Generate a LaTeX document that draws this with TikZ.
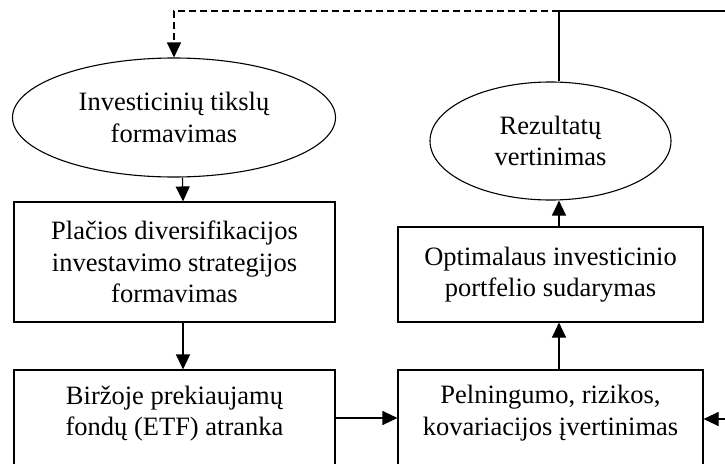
\documentclass[tikz,border=0pt]{standalone}
\usepackage{fontspec}
\setmainfont{Liberation Serif}
\usetikzlibrary{shapes.geometric, arrows.meta}

\begin{document}
\begin{tikzpicture}[x=1pt, y=-1pt,
		every node/.style={font=\fontsize{26.5}{31.5}\selectfont, align=center, line width=1.1pt},
		blokas/.style={draw, rectangle, minimum width=321pt},
		elipse/.style={draw, ellipse, inner sep=0pt},
		rodykle/.style={-{Triangle[length=15pt,width=14pt]}, line width=1.1pt},
	]
			\def\W{725};
			\def\H{463};
			\def\dx{8.5pt};

			\useasboundingbox (0,0) rectangle (\W,\H);
			\clip (0,0) rectangle (\W,\H);

			% kairysis stulpelis
			\begin{scope}
				\node[elipse, minimum width=323pt, minimum height=119pt] (tikslai) at (174,117.5) {Investicinių tikslų\\formavimas};
				\node[blokas, minimum height=120pt] (strategija) at (174.5,262) {Plačios diversifikacijos\\investavimo strategijos\\formavimas};
				\node[blokas, minimum height=122pt] (atranka) at (174.5,431) {Biržoje prekiaujamų\\fondų (ETF) atranka\\\strut};
			\end{scope}

			% desinysis stulpelis
			\begin{scope}
				\node[elipse, minimum width=241pt, minimum height=118pt] (rezultatai) at (550.5,141) {Rezultatų\\vertinimas};
				\node[blokas, minimum width=305pt, minimum height=95pt] (portfelis) at (550.5,274.5) {Optimalaus investicinio\\portfelio sudarymas};
				\node[blokas, minimum width=305pt, minimum height=122pt] (ivertinimas) at (550.5,431) {Pelningumo, rizikos,\\kovariacijos įvertinimas\\\strut};
			\end{scope}

			\coordinate (virsus) at (559,11);
			\coordinate (kampas) at (174,11);
			\coordinate (desine) at (\W,11);
			\coordinate (iejimas) at (\W,419);

			% rodykles
			\begin{scope}
				\draw[rodykle] ([xshift=\dx]tikslai.south) -- ([xshift=\dx]strategija.north);
				\draw[rodykle] ([xshift=\dx]strategija.south) -- ([xshift=\dx]atranka.north);
				\draw[rodykle] ([yshift=13pt]atranka.east) -- ([yshift=13pt]ivertinimas.west);
				\draw[rodykle] ([xshift=\dx]ivertinimas.north) -- ([xshift=\dx]portfelis.south);
				\draw[rodykle] ([xshift=\dx]portfelis.north) -- ([xshift=\dx]rezultatai.south);
				\draw[rodykle] (iejimas) -- (iejimas -| ivertinimas.east);
			\end{scope}

			% grizimas
			\draw[line width=1.1pt] (desine) -- (virsus) -- (virsus |- rezultatai.north);
			\draw[rodykle, dash pattern=on 7pt off 4pt] (virsus) -- (kampas) -- (tikslai.north);
\end{tikzpicture}
\end{document}
